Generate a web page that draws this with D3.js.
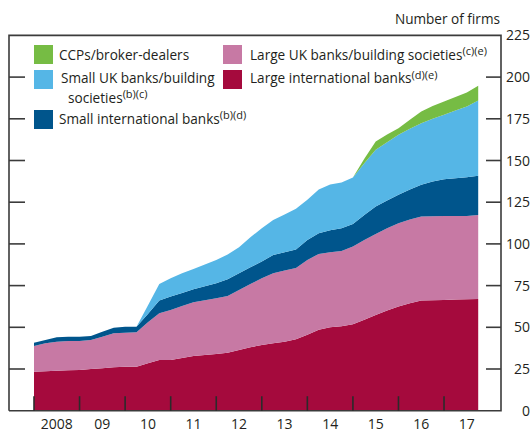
<!DOCTYPE html>
<html>
<head>
<meta charset="utf-8">
<script src="https://cdn.jsdelivr.net/npm/d3@7"></script>
<style>
  html, body { margin: 0; padding: 0; background: #fff; }
  svg { display: block; }
  text { font-family: "Open Sans", "Noto Sans", sans-serif; fill: #231f20; }
</style>
</head>
<body>
<svg id="chart" width="530" height="432"></svg>
<script>
// ---- Data (quarterly, number of firms) ----
const time = [
  2008.00, 2008.25, 2008.50, 2008.75,
  2009.00, 2009.25, 2009.50, 2009.75,
  2010.00, 2010.25, 2010.50, 2010.75,
  2011.00, 2011.25, 2011.50, 2011.75,
  2012.00, 2012.25, 2012.50, 2012.75,
  2013.00, 2013.25, 2013.50, 2013.75,
  2014.00, 2014.25, 2014.50, 2014.75,
  2015.00, 2015.25, 2015.50, 2015.75,
  2016.00, 2016.25, 2016.50, 2016.75,
  2017.00, 2017.25, 2017.50, 2017.75
];
const largeInternational = [
  23.3, 23.6, 24.0, 24.2,  24.4, 25.0, 25.4, 26.0,  26.4, 26.4, 28.4, 30.4,
  30.4, 31.6, 32.8, 33.4,  34.0, 34.8, 36.4, 38.0,  39.4, 40.4, 41.4, 42.8,
  45.6, 48.6, 50.0, 50.6,  51.8, 54.6, 57.4, 60.0,  62.4, 64.4, 66.0, 66.2,
  66.4, 66.6, 66.8, 67.0
];
const largeUK = [
  15.5, 16.8, 17.4, 17.6,  17.4, 17.4, 19.0, 20.4,  20.4, 20.6, 24.6, 28.0,
  30.0, 31.2, 32.2, 32.8,  33.4, 34.0, 36.0, 38.0,  40.0, 42.0, 42.6, 42.8,
  44.8, 45.4, 45.0, 45.2,  46.6, 47.8, 48.6, 49.4,  50.0, 50.2, 50.4, 50.4,
  50.4, 50.2, 50.0, 50.4
];
const smallInternational = [
  2.0, 2.0, 2.6, 2.6,  2.6, 2.4, 3.0, 3.4,  3.6, 3.4, 5.0, 7.6,
  8.0, 7.8, 7.8, 8.4,  9.0, 10.0, 10.0, 10.0,  10.0, 11.0, 11.0, 11.0,
  12.0, 12.4, 13.2, 13.6,  13.6, 15.0, 16.4, 16.6,  17.0, 18.0, 19.0, 20.8,
  22.0, 22.6, 23.2, 23.4
];
const smallUK = [
  0, 0, 0, 0,  0, 0, 0, 0,  0, 0, 5.0, 10.0,
  11.0, 11.8, 12.2, 13.0,  14.0, 14.8, 15.6, 18.0,  20.0, 21.0, 22.6, 24.4,
  24.0, 26.2, 27.4, 27.4,  27.8, 31.0, 34.0, 35.0,  36.0, 36.4, 37.0, 37.6,
  38.6, 40.6, 42.4, 45.2
];
const ccps = [
  0, 0, 0, 0,  0, 0, 0, 0,  0, 0, 0, 0,
  0, 0, 0, 0,  0, 0, 0, 0,  0, 0, 0, 0,
  0, 0, 0, 0,  0, 2.6, 5.0, 4.6,  4.0, 5.5, 7.0, 7.6,
  8.0, 8.0, 8.4, 8.8
];
const yearTicks = [2008, 2009, 2010, 2011, 2012, 2013, 2014, 2015, 2016, 2017];
const yearLabels = ["2008", "09", "10", "11", "12", "13", "14", "15", "16", "17"];
const yTickValues = [0, 25, 50, 75, 100, 125, 150, 175, 200, 225];

const seriesKeys = ["largeInternational", "largeUK", "smallInternational", "smallUK", "ccps"];
const seriesColors = {
  largeInternational: "#a50a3d",
  largeUK: "#c779a4",
  smallInternational: "#00558c",
  smallUK: "#55b6e6",
  ccps: "#76bc44"
};

// ---- Build table ----
const table = time.map((t, i) => ({
  t,
  largeInternational: largeInternational[i],
  largeUK: largeUK[i],
  smallInternational: smallInternational[i],
  smallUK: smallUK[i],
  ccps: ccps[i]
}));
const seriesValues = { largeInternational, largeUK, smallInternational, smallUK, ccps };

const svg = d3.select("#chart");
const plotLeft = 9, plotRight = 501, plotTop = 35.4, plotBottom = 410.7;

const x = d3.scaleLinear().domain([2008, 2018]).range([34, 489.6]);
const y = d3.scaleLinear().domain([0, 225]).range([plotBottom, plotTop]);

const stack = d3.stack().keys(seriesKeys);
const layers = stack(table);

const area = d3.area()
  .x(d => x(d.data.t))
  .y0(d => y(d[0]))
  .y1(d => y(d[1]));

svg.append("g").selectAll("path")
  .data(layers)
  .join("path")
  .attr("fill", d => seriesColors[d.key])
  .attr("d", d => {
    const vals = seriesValues[d.key];
    return area.defined((p, i) => vals[i] > 0 || (i > 0 && vals[i - 1] > 0) || (i < vals.length - 1 && vals[i + 1] > 0))(d);
  });

// ---- Frame and axes ----
const axisColor = "#3b3b3b";
const frame = svg.append("g").attr("stroke", axisColor).attr("fill", "none");
frame.append("path")
  .attr("stroke-width", 1.6)
  .attr("d", `M${plotLeft},${plotBottom}V${plotTop}H${plotRight}V${plotBottom}H${plotLeft}`);

const innerTicks = yTickValues.filter(v => v > 0 && v < 225);
frame.selectAll("line.lt").data(innerTicks).join("line")
  .attr("class", "lt")
  .attr("x1", plotLeft).attr("x2", 25)
  .attr("y1", d => y(d)).attr("y2", d => y(d))
  .attr("stroke-width", 1.6);
frame.selectAll("line.rt").data(innerTicks).join("line")
  .attr("class", "rt")
  .attr("x1", 486).attr("x2", plotRight)
  .attr("y1", d => y(d)).attr("y2", d => y(d))
  .attr("stroke-width", 1.6);

// bottom ticks (inward, year boundaries)
svg.append("g").selectAll("line").data(yearTicks).join("line")
  .attr("x1", d => x(d)).attr("x2", d => x(d))
  .attr("y1", plotBottom).attr("y2", plotBottom - 14.5)
  .attr("stroke", "#2b2b2b").attr("stroke-width", 1.6);

// y labels on the right
svg.append("g").selectAll("text").data(yTickValues).join("text")
  .attr("x", 530).attr("y", d => y(d))
  .attr("dy", "0.36em")
  .attr("text-anchor", "end")
  .attr("font-size", 14)
  .text(d => d);

// x labels
svg.append("g").selectAll("text").data(yearTicks).join("text")
  .attr("x", d => x(d + 0.5)).attr("y", 429)
  .attr("text-anchor", "middle")
  .attr("font-size", 14)
  .text((d, i) => yearLabels[i]);

// unit label
svg.append("text")
  .attr("x", 500).attr("y", 24)
  .attr("text-anchor", "end")
  .attr("font-size", 13.6)
  .text("Number of firms");

// ---- Legend ----
const legendItems = [
  { key: "ccps", lines: [["CCPs/broker-dealers", ""]], sx: 34, sy: 45, tx: 59, ty: 60 },
  { key: "largeUK", lines: [["Large UK banks/building societies", "(c)(e)"]], sx: 223, sy: 45, tx: 250, ty: 60 },
  { key: "smallUK", lines: [["Small UK banks/building", ""], ["societies", "(b)(c)"]], sx: 34, sy: 70, tx: 61, ty: 82.6, tx2: 68, ty2: 102.7 },
  { key: "largeInternational", lines: [["Large international banks", "(d)(e)"]], sx: 223, sy: 70, tx: 250, ty: 83.3 },
  { key: "smallInternational", lines: [["Small international banks", "(b)(d)"]], sx: 34, sy: 110, tx: 59, ty: 124 }
];
const lg = svg.append("g");
legendItems.forEach(item => {
  lg.append("rect")
    .attr("x", item.sx).attr("y", item.sy)
    .attr("width", 19).attr("height", 19)
    .attr("fill", seriesColors[item.key]);
  item.lines.forEach((ln, j) => {
    const t = lg.append("text")
      .attr("x", j === 0 ? item.tx : item.tx2)
      .attr("y", j === 0 ? item.ty : item.ty2)
      .attr("font-size", 13.6);
    t.append("tspan").text(ln[0]);
    if (ln[1]) {
      t.append("tspan").attr("font-size", 11).attr("dy", -4.6).text(ln[1]);
    }
  });
});
</script>
</body>
</html>
